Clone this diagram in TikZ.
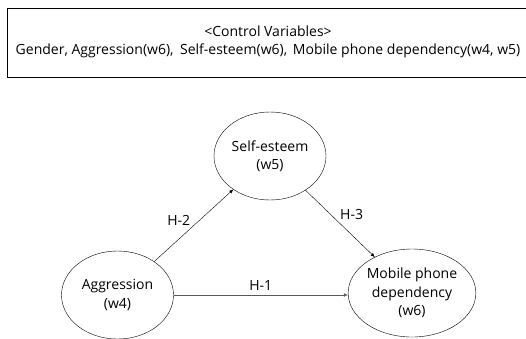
\documentclass[tikz,border=0pt]{standalone}
\usepackage{fontspec}
\setmainfont{Open Sans}
\usetikzlibrary{positioning, shapes, arrows.meta}

\begin{document}
\begin{tikzpicture}[x=1pt, y=-1pt, font=\fontsize{14}{18.5}\selectfont,
			var/.style={ellipse, draw, thin, minimum width=112pt, minimum height=88pt, inner sep=0pt, align=center},
			path/.style={-{Latex[length=4pt, width=3.5pt]}, thin}]
			\useasboundingbox (0,0) rectangle (526,338);
			\draw[thin] (600,8) -- (7.5,8) -- (7.5,77.5) -- (600,77.5);
			\node (ctrl) [align=center] at (268,42) {<Control Variables>\\Gender, Aggression(w6),\hspace{0.2em} Self-esteem(w6),\hspace{0.15em} Mobile phone dependency(w4, w5)};
			\node (agg) [var] at (117.5,295) {Aggression\\(w4)};
			\node (self) [var] at (270,156) {Self-esteem\\(w5)};
			\node (mob) [var] at (412,293) {Mobile phone\\dependency\\(w6)};
			\draw[path] (agg) -- node[above left=-4pt and 0pt, pos=0.5] (h2) {H-2} (self);
			\draw[path] (self) -- node[above right=-3pt and 0pt, pos=0.45] (h3) {H-3} (mob);
			\draw[path, gray!70!black] (agg.east) -- node[above=1pt, black] (h1) {H-1} (agg.east -| mob.west);
		\end{tikzpicture}
\end{document}
